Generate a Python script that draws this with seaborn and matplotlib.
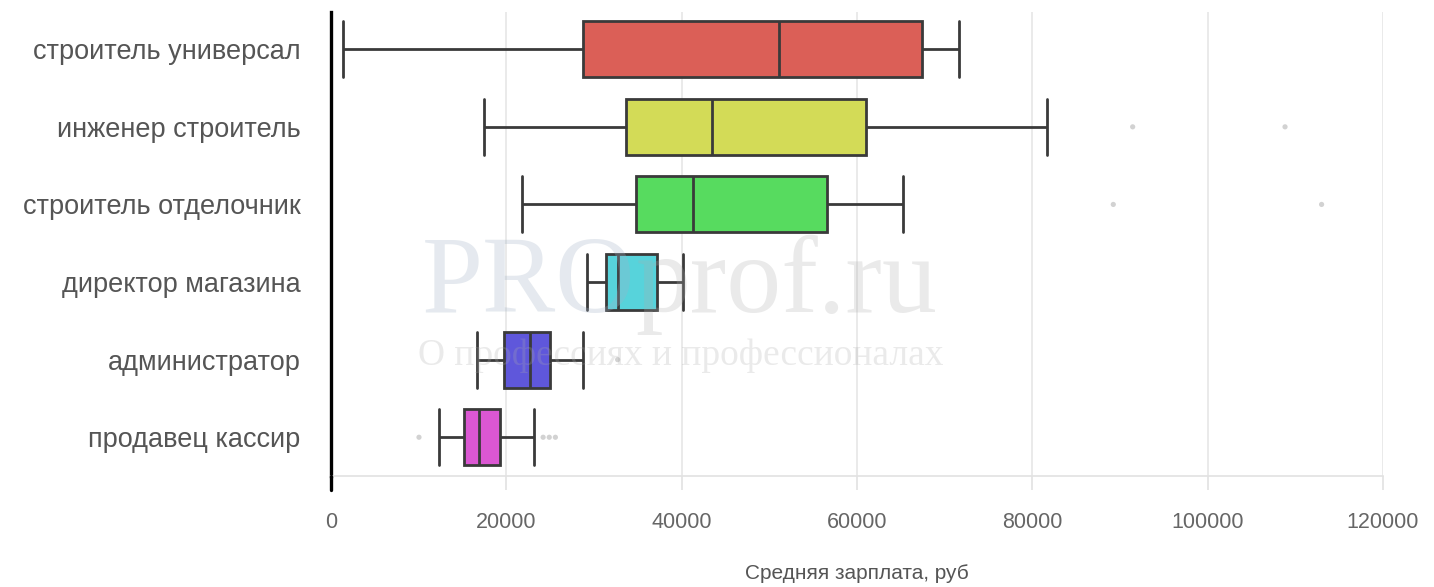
import numpy as np
import pandas as pd
import matplotlib
matplotlib.use("Agg")
import matplotlib.pyplot as plt
import seaborn as sns

# five-number summaries (руб)
categories = ['строитель универсал', 'инженер строитель', 'строитель отделочник',
              'директор магазина', 'администратор', 'продавец кассир']
whis_lo = [1400, 17450, 21830, 29160, 16690, 12280]
q1 = [28760, 33680, 34760, 31370, 19730, 15210]
median = [51160, 43480, 41280, 32700, 22700, 16880]
q3 = [67400, 61000, 56600, 37150, 24980, 19310]
whis_hi = [71680, 81700, 65200, 40110, 28780, 23190]

# outliers (faint grey dots)
outlier_cat = ['инженер строитель', 'инженер строитель',
               'строитель отделочник', 'строитель отделочник',
               'администратор',
               'продавец кассир', 'продавец кассир', 'продавец кассир', 'продавец кассир']
outlier_val = [91450, 108830, 89240, 113000, 32700, 10040, 24200, 24900, 25600]

xticks = [0, 20000, 40000, 60000, 80000, 100000, 120000]

# long table: each category holds exactly its five summary points,
# so quartiles / whiskers (whis=(0, 100)) land on the read values
rows = []
for i, cat in enumerate(categories):
    for v in (whis_lo[i], q1[i], median[i], q3[i], whis_hi[i]):
        rows.append({'job': cat, 'salary': v})
df = pd.DataFrame(rows)
df_out = pd.DataFrame({'job': outlier_cat, 'salary': outlier_val})

sns.set_style("white")
plt.rcParams['font.family'] = ['Liberation Sans', 'DejaVu Sans']

fig = plt.figure(figsize=(14.34, 5.87), dpi=100)
ax = fig.add_axes([0.2308, 0.189, 0.9644 - 0.2308, 0.9796 - 0.189])

edge = '#3a3a3a'
sns.boxplot(data=df, x='salary', y='job', order=categories, hue='job',
            hue_order=categories, palette='hls', legend=False,
            whis=(0, 100), width=0.72, capwidths=0.72, showfliers=False,
            linecolor=edge, linewidth=2.0, saturation=1, ax=ax)

sns.scatterplot(data=df_out, x='salary', y='job', color='#d2d2d2', s=14,
                edgecolor='none', ax=ax, zorder=3)

ax.set_xlim(0, 120000)
ax.set_ylim(5.5, -0.48)
ax.set_xticks(xticks)
ax.set_xticklabels([str(t) for t in xticks])
ax.grid(axis='x', color='#e6e6e6', linewidth=1.2)
ax.set_axisbelow(True)

for s in ['top', 'right']:
    ax.spines[s].set_visible(False)
ax.spines['bottom'].set_color('#e2e2e2')
ax.spines['bottom'].set_linewidth(1.2)
ax.spines['left'].set_color('black')
ax.spines['left'].set_linewidth(2.4)

ax.tick_params(axis='x', bottom=True, length=10, width=1.2, color='#e2e2e2',
               pad=16, labelsize=15.5, labelcolor='#666666')
ax.tick_params(axis='y', left=False, length=0, pad=22, labelsize=19.5,
               labelcolor='#555555')
# zero line continues a bit below the axis, like a black tick
ax.axvline(0, ymin=-0.03, ymax=0.0, color='black', linewidth=2.4,
           clip_on=False, zorder=5)

ax.set_ylabel('')
ax.set_xlabel('Средняя зарплата, руб', fontsize=15, color='#555555', labelpad=22)

# watermark overlay
fig.text(0.443, 0.4685, 'PRO', fontsize=79, family='Liberation Serif',
         color='#a2b2c6', alpha=0.28, ha='right', va='baseline')
fig.text(0.443, 0.4685, 'prof.ru', fontsize=79, family='Liberation Serif',
         color='#acacac', alpha=0.25, ha='left', va='baseline')
fig.text(0.475, 0.378, 'О профессиях и профессионалах', fontsize=27,
         family='Liberation Serif', color='#acacac', alpha=0.25,
         ha='center', va='baseline')

fig.savefig('out.png', dpi=100)
